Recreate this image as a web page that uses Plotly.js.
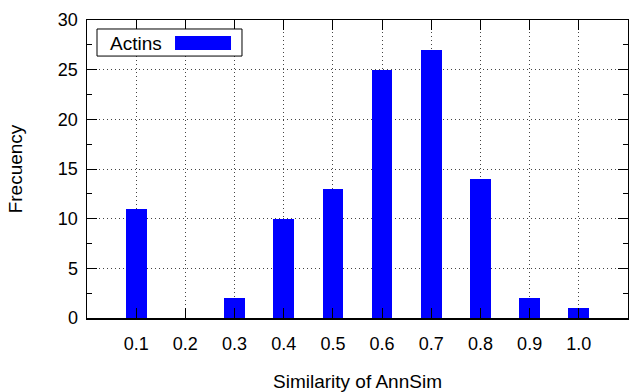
<!DOCTYPE html>
<html>
<head>
<meta charset="utf-8">
<script src="https://cdn.plot.ly/plotly-3.0.1.min.js"></script>
<style>html,body{margin:0;padding:0;background:#fff;}#chart{width:629px;height:392px;}</style>
</head>
<body>
<div id="chart"></div>
<script>
var similarity = [0.1, 0.2, 0.3, 0.4, 0.5, 0.6, 0.7, 0.8, 0.9, 1.0];
var tickLabels = ["0.1", "0.2", "0.3", "0.4", "0.5", "0.6", "0.7", "0.8", "0.9", "1.0"];
var frequency = [11, 0, 2, 10, 13, 25, 27, 14, 2, 1];
var seriesName = "Actins";

var fam = "Liberation Sans, Arial, Helvetica, sans-serif";
var tickFont = {family: fam, size: 18, color: "#000"};
var titleFont = {family: fam, size: 19, color: "#000"};

var trace = {
  type: "bar",
  x: similarity,
  y: frequency,
  width: 0.042,
  name: seriesName,
  marker: {color: "#0000ff", line: {width: 0}},
  showlegend: false,
  hoverinfo: "x+y"
};

var layout = {
  width: 629, height: 392,
  margin: {l: 87, r: 1, t: 20, b: 74},
  paper_bgcolor: "#fff", plot_bgcolor: "#fff",
  font: tickFont,
  bargap: 0,
  xaxis: {
    range: [0, 1.1],
    tickvals: similarity,
    ticktext: tickLabels,
    ticks: "inside", ticklen: 10, tickwidth: 1, tickcolor: "#000",
    showline: true, linecolor: "#000", linewidth: 1.5, mirror: "allticks",
    showgrid: true, gridcolor: "#444", griddash: "1px,3px", gridwidth: 1,
    zeroline: false,
    ticklabelstandoff: 9,
    tickfont: tickFont,
    title: {text: "Similarity of AnnSim", font: titleFont, standoff: 22},
    automargin: false
  },
  yaxis: {
    range: [0, 30],
    tickvals: [0, 5, 10, 15, 20, 25, 30],
    ticks: "inside", ticklen: 10, tickwidth: 1, tickcolor: "#000",
    minor: {tickvals: [2.5, 7.5, 12.5, 17.5, 22.5, 27.5], ticks: "inside", ticklen: 5, tickcolor: "#000", showgrid: false},
    showline: true, linecolor: "#000", linewidth: 1.5, mirror: "allticks",
    showgrid: true, gridcolor: "#444", griddash: "1px,3px", gridwidth: 1,
    zeroline: false,
    ticklabelstandoff: 4,
    tickfont: tickFont,
    title: {text: "Frecuency", font: titleFont, standoff: 30},
    automargin: false
  },
  shapes: [
    {type: "rect", xref: "paper", yref: "paper", x0: 0.0185, x1: 0.2865, y0: 0.879, y1: 0.9698,
     line: {color: "#000", width: 1}, fillcolor: "#fff", layer: "above"},
    {type: "rect", xref: "paper", yref: "paper", x0: 0.1627, x1: 0.2662, y0: 0.8993, y1: 0.9463,
     line: {width: 0}, fillcolor: "#0000ff", layer: "above"}
  ],
  annotations: [
    {text: seriesName, xref: "paper", yref: "paper", x: 0.1423, y: 0.9228, xanchor: "right", yanchor: "middle",
     showarrow: false, font: {family: fam, size: 19, color: "#000"}}
  ]
};

Plotly.newPlot("chart", [trace], layout, {displayModeBar: false, staticPlot: true});
</script>
</body>
</html>
